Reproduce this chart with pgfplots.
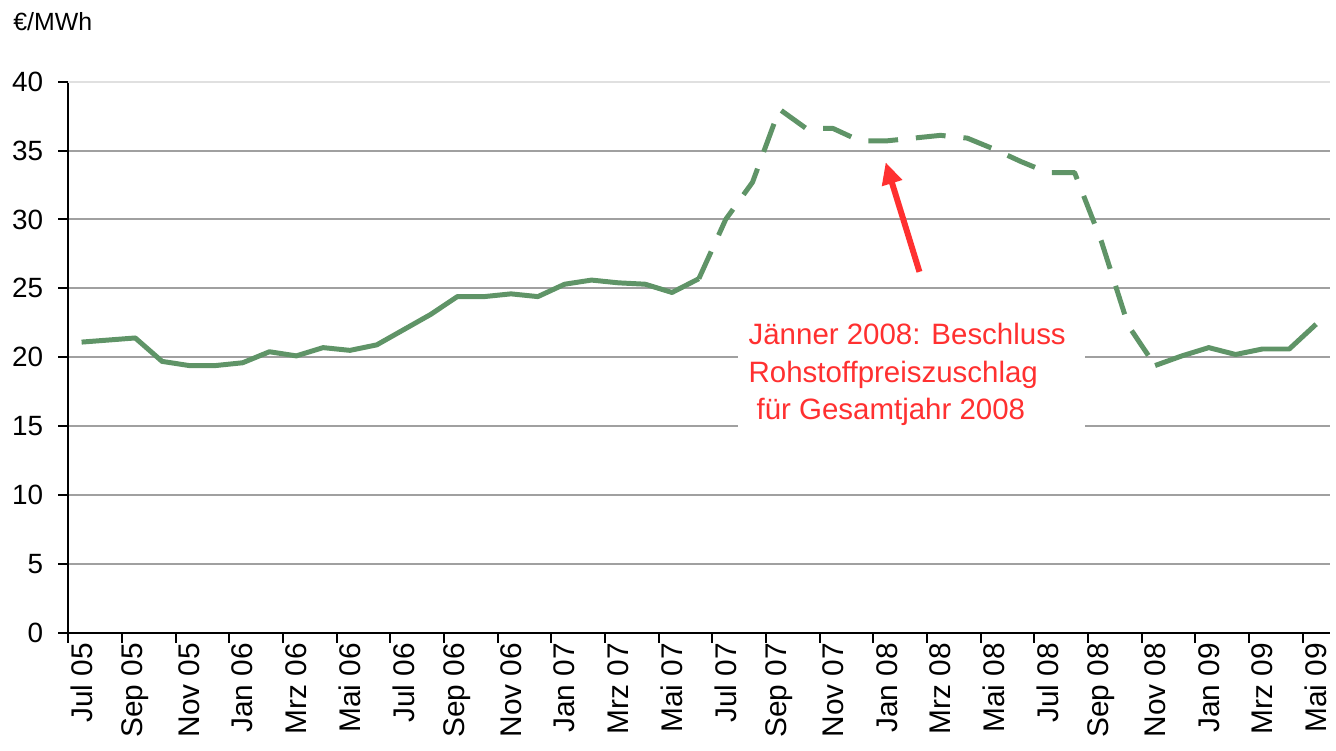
\documentclass[border=0pt]{standalone}
\usepackage{fontspec}
\setmainfont{Liberation Sans}
\usepackage{pgfplots}
\pgfplotsset{compat=1.18}
\usetikzlibrary{arrows.meta}

\definecolor{linegreen}{RGB}{95,148,103}
\definecolor{notered}{RGB}{255,48,48}
\definecolor{gridgray}{RGB}{160,160,160}

\newcommand{\ticksize}{\fontsize{14}{16}\selectfont}
\newcommand{\xticksize}{\fontsize{15}{17}\selectfont}

\begin{document}
\begin{tikzpicture}
\begin{axis}[
    at={(0,0)}, anchor=south west,
    scale only axis,
    width=633.75pt, height=277pt,
    xmin=-0.5, xmax=46.5,
    ymin=0, ymax=40,
    axis x line*=bottom, axis y line*=left,
    axis line style={black, line width=1pt},
    tick align=outside,
    major tick length=5pt,
    tick style={black, line width=1pt},
    ytick={0,5,...,35},
    extra y ticks={40},
    extra y tick style={grid style={color=black!12, line width=1pt}},
    ymajorgrids,
    grid style={gridgray, line width=1pt},
    xtick={-0.5,1.5,...,45.5},
    xticklabels={},
    extra x ticks={0,2,...,46},
    extra x tick labels={Jul 05,Sep 05,Nov 05,Jan 06,Mrz 06,Mai 06,Jul 06,Sep 06,Nov 06,Jan 07,Mrz 07,Mai 07,Jul 07,Sep 07,Nov 07,Jan 08,Mrz 08,Mai 08,Jul 08,Sep 08,Nov 08,Jan 09,Mrz 09,Mai 09},
    extra x tick style={major tick length=0pt, xmajorgrids=false},
    every tick label/.append style={font=\ticksize},
    xticklabel style={font=\xticksize, yshift=-1.5pt, rotate=90, anchor=east},
    yticklabel style={font=\ticksize, xshift=-4pt},
    /pgf/number format/assume math mode=true,
    clip=false,
]
% white box behind the note
\fill[white] (axis cs:24.47,14.4) rectangle (axis cs:37.38,23.6);

\addplot[linegreen, line width=2.5pt, line join=round] coordinates {
(0,21.1) (1,21.25) (2,21.4) (3,19.7) (4,19.4) (5,19.4) (6,19.6) (7,20.4)
(8,20.1) (9,20.7) (10,20.5) (11,20.9) (12,22.0) (13,23.1) (14,24.4) (15,24.4)
(16,24.6) (17,24.4) (18,25.3) (19,25.6) (20,25.4) (21,25.3) (22,24.7) (23,25.7)
};
\addplot[linegreen, line width=2.5pt, line join=round, dash pattern=on 15pt off 9pt] coordinates {
(23,25.7) (24,30.0) (25,32.7) (26,38.0) (27,36.6) (28,36.6) (29,35.7) (30,35.7)
(31,35.9) (32,36.1) (33,35.9) (34,35.1) (35,34.2) (36,33.4) (37,33.4) (38,28.4)
(39,22.3) (40,19.4)
};
\addplot[linegreen, line width=2.5pt, line join=round] coordinates {
(40,19.4) (41,20.1) (42,20.7) (43,20.2) (44,20.6) (45,20.6) (46,22.4)
};

\draw[notered, line width=3pt, -{Triangle[length=11pt,width=10pt]}]
    (axis cs:31.22,26.2) -- (axis cs:29.96,34.15);
\node[anchor=base west, align=left, text=notered, inner sep=0pt,
      font=\fontsize{14.8}{19}\selectfont]
    at (axis cs:24.84,15.45)
    {Jänner 2008: Beschluss\\Rohstoffpreiszuschlag\\\hspace*{4pt}für Gesamtjahr 2008};
\end{axis}
\node[anchor=base west, inner sep=0pt, font=\fontsize{12.5}{15}\selectfont]
    at (-27.75pt,302.5pt) {€/MWh};
\pgfresetboundingbox
\path (-34.25pt,-59pt) rectangle (637pt,318pt);
\end{tikzpicture}
\end{document}
